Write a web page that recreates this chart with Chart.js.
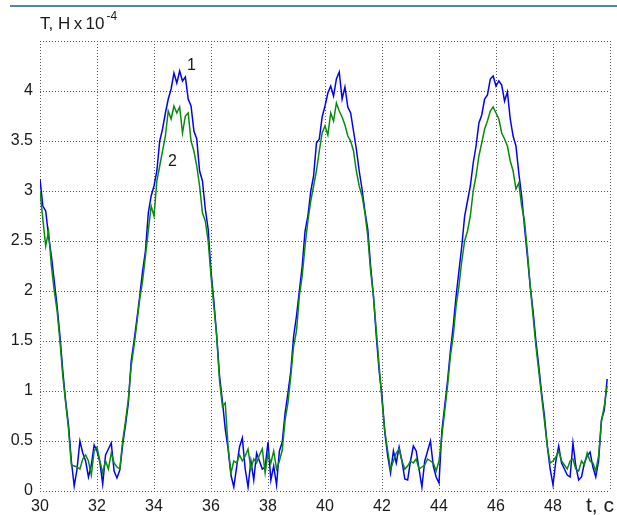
<!DOCTYPE html>
<html>
<head>
<meta charset="utf-8">
<script src="https://cdn.jsdelivr.net/npm/chart.js@4"></script>
<style>
html,body{margin:0;padding:0;background:#fff;}
#wrap{width:617px;height:515px;position:relative;}
</style>
</head>
<body>
<div id="wrap"><canvas id="c" width="617" height="515"></canvas></div>
<script>
// time samples, s
const times = [
30.0,30.1,30.2,30.3,30.4,30.5,30.6,30.7,30.8,30.9,
31.0,31.1,31.2,31.3,31.4,31.5,31.6,31.7,31.8,31.9,
32.0,32.1,32.2,32.3,32.4,32.5,32.6,32.7,32.8,32.9,
33.0,33.1,33.2,33.3,33.4,33.5,33.6,33.7,33.8,33.9,
34.0,34.1,34.2,34.3,34.4,34.5,34.6,34.7,34.8,34.9,
35.0,35.1,35.2,35.3,35.4,35.5,35.6,35.7,35.8,35.9,
36.0,36.1,36.2,36.3,36.4,36.5,36.6,36.7,36.8,36.9,
37.0,37.1,37.2,37.3,37.4,37.5,37.6,37.7,37.8,37.9,
38.0,38.1,38.2,38.3,38.4,38.5,38.6,38.7,38.8,38.9,
39.0,39.1,39.2,39.3,39.4,39.5,39.6,39.7,39.8,39.9,
40.0,40.1,40.2,40.3,40.4,40.5,40.6,40.7,40.8,40.9,
41.0,41.1,41.2,41.3,41.4,41.5,41.6,41.7,41.8,41.9,
42.0,42.1,42.2,42.3,42.4,42.5,42.6,42.7,42.8,42.9,
43.0,43.1,43.2,43.3,43.4,43.5,43.6,43.7,43.8,43.9,
44.0,44.1,44.2,44.3,44.4,44.5,44.6,44.7,44.8,44.9,
45.0,45.1,45.2,45.3,45.4,45.5,45.6,45.7,45.8,45.9,
46.0,46.1,46.2,46.3,46.4,46.5,46.6,46.7,46.8,46.9,
47.0,47.1,47.2,47.3,47.4,47.5,47.6,47.7,47.8,47.9,
48.0,48.1,48.2,48.3,48.4,48.5,48.6,48.7,48.8,48.9,
49.0,49.1,49.2,49.3,49.4,49.5,49.6,49.7,49.8,49.9
];
// series 1 (blue), T x 10^-4
const series1 = [
3.12,2.85,2.80,2.55,2.35,2.10,1.85,1.55,1.20,0.90,
0.66,0.30,0.05,0.22,0.50,0.38,0.30,0.14,0.26,0.46,
0.40,0.29,0.07,0.36,0.42,0.48,0.20,0.13,0.21,0.46,
0.66,0.88,1.30,1.50,1.72,1.95,2.20,2.40,2.78,2.95,
3.05,3.20,3.50,3.62,3.78,3.92,4.02,4.18,4.08,4.20,
4.10,4.14,3.92,3.85,3.60,3.52,3.20,3.10,2.82,2.62,
2.20,1.90,1.55,1.15,0.90,0.62,0.42,0.16,0.04,0.24,
0.44,0.53,0.22,0.04,0.30,0.11,0.38,0.30,0.22,0.24,
0.49,0.11,0.25,0.06,0.40,0.49,0.78,0.98,1.20,1.55,
1.75,2.00,2.25,2.60,2.75,3.00,3.15,3.48,3.52,3.74,
3.85,3.98,4.05,3.95,4.12,4.19,3.92,4.04,3.84,3.78,
3.60,3.42,3.20,3.02,2.80,2.62,2.25,1.95,1.55,1.20,
0.95,0.58,0.35,0.18,0.40,0.28,0.44,0.30,0.12,0.11,
0.30,0.45,0.40,0.22,0.04,0.30,0.40,0.50,0.25,0.14,
0.08,0.60,0.85,1.10,1.40,1.65,1.95,2.20,2.45,2.75,
2.90,3.05,3.28,3.45,3.68,3.76,3.92,3.96,4.12,4.15,
4.05,4.10,4.06,3.90,3.99,3.72,3.55,3.45,3.18,2.95,
2.64,2.35,2.05,1.80,1.50,1.25,0.98,0.75,0.45,0.22,
0.06,0.30,0.45,0.28,0.22,0.16,0.14,0.48,0.25,0.11,
0.14,0.28,0.35,0.39,0.24,0.14,0.30,0.71,0.81,1.12
];
// series 2 (green), T x 10^-4
const series2 = [
3.00,2.72,2.45,2.60,2.25,2.00,1.80,1.50,1.15,0.88,
0.62,0.26,0.25,0.24,0.22,0.32,0.36,0.30,0.16,0.40,
0.44,0.30,0.18,0.30,0.22,0.38,0.28,0.24,0.22,0.50,
0.70,0.92,1.25,1.45,1.68,1.92,2.10,2.35,2.60,2.85,
2.75,3.10,3.25,3.40,3.55,3.80,3.72,3.85,3.78,3.84,
3.58,3.75,3.78,3.50,3.40,3.25,3.05,2.78,2.70,2.50,
2.15,1.85,1.55,1.10,0.85,0.88,0.44,0.18,0.30,0.28,
0.36,0.30,0.35,0.42,0.22,0.32,0.28,0.36,0.42,0.18,
0.38,0.28,0.40,0.22,0.30,0.41,0.71,0.88,1.15,1.45,
1.60,1.95,2.15,2.45,2.70,2.90,3.05,3.20,3.40,3.58,
3.65,3.56,3.78,3.70,3.88,3.80,3.74,3.66,3.55,3.50,
3.40,3.20,3.05,2.95,2.78,2.55,2.20,1.95,1.60,1.25,
0.90,0.60,0.40,0.22,0.30,0.38,0.42,0.30,0.22,0.25,
0.30,0.28,0.32,0.22,0.24,0.26,0.32,0.30,0.28,0.20,
0.30,0.55,0.80,1.05,1.35,1.55,1.85,2.05,2.30,2.50,
2.60,2.75,3.00,3.15,3.35,3.48,3.62,3.70,3.80,3.84,
3.78,3.72,3.58,3.52,3.45,3.30,3.20,3.02,3.08,2.85,
2.70,2.40,2.05,1.75,1.45,1.20,0.95,0.70,0.45,0.28,
0.30,0.34,0.40,0.30,0.26,0.22,0.30,0.32,0.22,0.20,
0.30,0.26,0.38,0.30,0.28,0.20,0.35,0.70,0.85,1.05
];
const xTicks = [30,32,34,36,38,40,42,44,46,48];
const yTicks = [0,0.5,1,1.5,2,2.5,3,3.5,4];
const xMin = 30, xMax = 50, yMin = 0, yMax = 4.5;

const pts = (ys) => times.map((t,i) => ({x:t, y:ys[i]}));

const FONT = "'Liberation Sans', Arial, sans-serif";
Chart.defaults.font.family = FONT;
Chart.defaults.color = '#1a1a1a';

const textPlugin = {
  id: 'texts',
  afterDraw(chart) {
    const ctx = chart.ctx;
    ctx.save();
    // header rule
    ctx.fillStyle = '#4f81bd';
    ctx.fillRect(10, 5, 607, 2);
    ctx.fillStyle = '#1a1a1a';
    ctx.textBaseline = 'alphabetic';
    ctx.textAlign = 'left';
    // axis title
    ctx.font = "17px " + FONT;
    const main = 'T, H\u2009x\u200910';
    ctx.fillText(main, 40, 29);
    const w = ctx.measureText(main).width;
    ctx.font = "12px " + FONT;
    ctx.fillText('-4', 40 + w + 2, 20);
    // series labels
    ctx.font = "16px " + FONT;
    ctx.fillText('1', 187, 70);
    ctx.fillText('2', 168, 166);
    // x axis title
    ctx.font = "21px " + FONT;
    ctx.fillText('t, c', 586, 512);
    ctx.restore();
  }
};

new Chart(document.getElementById('c'), {
  type: 'line',
  data: {
    datasets: [
      {label: '2', data: pts(series2), borderColor: '#0a8a0a', borderWidth: 1.5, pointRadius: 0, tension: 0, fill: false},
      {label: '1', data: pts(series1), borderColor: '#0000ff', borderWidth: 1.5, pointRadius: 0, tension: 0, fill: false}
    ]
  },
  options: {
    responsive: false,
    animation: false,
    events: [],
    layout: {padding: {top: 41, right: 7, left: 0, bottom: 0}},
    plugins: {legend: {display: false}, tooltip: {enabled: false}, title: {display: false}},
    scales: {
      x: {
        type: 'linear', min: xMin, max: xMax,
        afterBuildTicks: (s) => { s.ticks = xTicks.concat([xMax]).map(v => ({value: v})); },
        afterFit: (s) => { s.height = 24; },
        ticks: {
          font: {size: 16}, padding: 6, maxRotation: 0, autoSkip: false,
          callback: (v) => xTicks.includes(v) ? String(v) : ''
        },
        grid: {color: '#555', lineWidth: 1, drawTicks: false},
        border: {display: false, dash: [1, 2]}
      },
      y: {
        type: 'linear', min: yMin, max: yMax,
        afterBuildTicks: (s) => { s.ticks = yTicks.concat([yMax]).map(v => ({value: v})); },
        afterFit: (s) => { s.width = 40; },
        ticks: {
          font: {size: 16}, padding: 7, autoSkip: false,
          callback: (v) => yTicks.includes(v) ? String(v) : ''
        },
        grid: {color: '#555', lineWidth: 1, drawTicks: false},
        border: {display: false, dash: [1, 2]}
      }
    }
  },
  plugins: [textPlugin]
});
</script>
</body>
</html>
